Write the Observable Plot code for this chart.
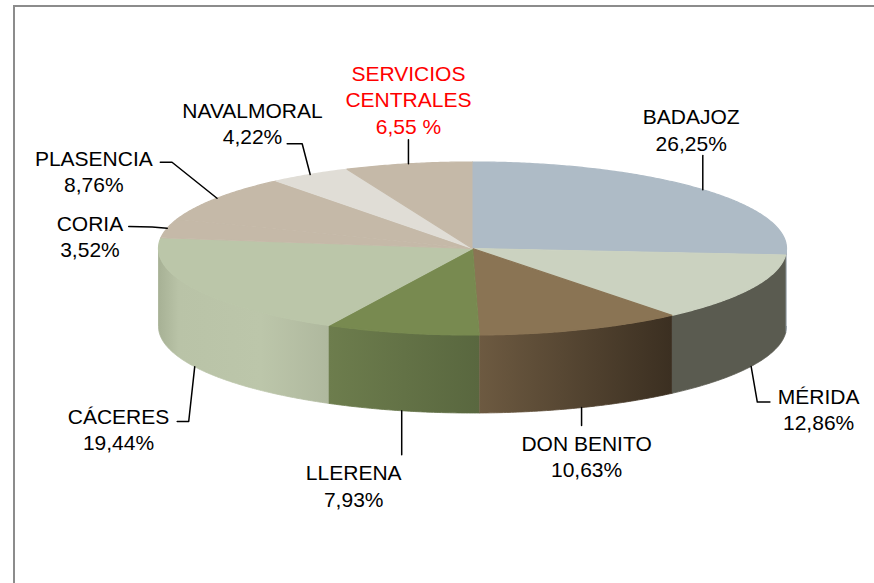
<!DOCTYPE html>
<html><head><meta charset="utf-8">
<script src="https://cdn.jsdelivr.net/npm/d3@7"></script>
<script src="https://cdn.jsdelivr.net/npm/@observablehq/plot@0.6"></script>
<style>
body{margin:0;background:#fff;}
#wrap{position:relative;width:874px;height:583px;overflow:hidden;}
#frame{position:absolute;left:13px;top:5px;right:-10px;bottom:-10px;border-top:2px solid #8c8c8c;border-left:2px solid #8c8c8c;pointer-events:none;}
</style></head><body>
<div id="wrap"><div id="chart"></div><div id="frame"></div></div>
<script>
// ---- data ----
const categories = ["BADAJOZ","MÉRIDA","DON BENITO","LLERENA","CÁCERES","CORIA","PLASENCIA","NAVALMORAL","SERVICIOS\nCENTRALES"];
const values = [26.25, 12.86, 10.63, 7.93, 19.44, 3.52, 8.76, 4.22, 6.55];
const valueLabels = ["26,25%","12,86%","10,63%","7,93%","19,44%","3,52%","8,76%","4,22%","6,55 %"];

// ---- styles ----
const topColors = ["#aebbc6","#cbd2c0","#8a7454","#788a50","#bbc6a9","#c5b9a8","#c5b9a8","#e0ddd6","#c5b9a8"];
const sideColors = ["#7f8a93","#5a5b50","url(#gDon)","url(#gLle)","url(#gCac)","#a89d8d","#a89d8d","#bdbab3","#a89d8d"];
const labelColors = ["#000","#000","#000","#000","#000","#000","#000","#000","#ff0000"];

// ---- layout ----
const W = 874, H = 583;
const geo = {cx: 472, cy: 248, rx: 314, ry: 86.5, depth: 78};
const lineGap = 26.5;
const labelLayout = [
  {dx: -11.6, dy: -65.3, leader: [[0, -34.3]]},
  {dx: 67.5, dy: 37.3, leader: [[6.2, 35.7], [18.8, 35.7]]},
  {dx: 5, dy: 42.9, leader: [[0, 18]]},
  {dx: -48, dy: 69.7, leader: [[0, 44]]},
  {dx: -76.2, dy: 57, leader: [[-6, 54.7], [-17.5, 54.7]]},
  {dx: -77.2, dy: 2.2, leader: [[-15, -1.3], [-38.4, -1.8]]},
  {dx: -123.2, dy: -32.7, leader: [[-45, -36], [-56.7, -36]]},
  {dx: -57.7, dy: -56.7, leader: [[-8, -30.7], [-23, -30.7]]},
  {dx: 0, dy: -83.3, leader: [[0, -24]]}
];

const P = (a, z = 0) => [geo.cx + geo.rx * Math.sin(a), geo.cy - geo.ry * Math.cos(a) + z];
const arcs = d3.pie().sort(null).value(d => d)(values);
const step = Math.PI / 360;

function arcPts(a0, a1, z) {
  const n = Math.max(2, Math.ceil(Math.abs(a1 - a0) / step));
  const out = [];
  for (let k = 0; k <= n; k++) out.push(P(a0 + (a1 - a0) * k / n, z));
  return out;
}

const topRows = [], sideRows = [], leaderRows = [], textRows = [];
arcs.forEach((s, i) => {
  const pts = [[geo.cx, geo.cy], ...arcPts(s.startAngle, s.endAngle, 0)];
  pts.forEach(([x, y]) => topRows.push({i, x, y, fill: topColors[i]}));
  const s0 = Math.max(s.startAngle, Math.PI / 2), s1 = Math.min(s.endAngle, 3 * Math.PI / 2);
  if (s1 > s0) {
    const sp = [...arcPts(s0, s1, 0), ...arcPts(s1, s0, geo.depth)];
    sp.forEach(([x, y]) => sideRows.push({i, x, y, fill: sideColors[i]}));
  }
  const mid = (s.startAngle + s.endAngle) / 2;
  const front = mid > Math.PI / 2 && mid < 3 * Math.PI / 2;
  const [ex, ey] = P(mid, front ? geo.depth : 0);
  const L = labelLayout[i];
  leaderRows.push({i, x: ex, y: ey});
  L.leader.forEach(([ox, oy]) => leaderRows.push({i, x: ex + ox, y: ey + oy}));
  const lines = [...categories[i].split("\n"), valueLabels[i]];
  lines.forEach((t, k) => textRows.push({t, x: ex + L.dx, y: ey + L.dy + k * lineGap, c: labelColors[i]}));
});

const chart = Plot.plot({
  width: W, height: H, margin: 0,
  x: {domain: [0, W], range: [0, W], axis: null},
  y: {domain: [0, H], range: [0, H], axis: null},
  color: {type: "identity"},
  marks: [
    Plot.line(sideRows, {x: "x", y: "y", z: "i", fill: "fill", stroke: "fill", strokeWidth: 0.8}),
    Plot.line(topRows, {x: "x", y: "y", z: "i", fill: "fill", stroke: "fill", strokeWidth: 1.2, strokeLinejoin: "round"}),
    Plot.line(leaderRows, {x: "x", y: "y", z: "i", stroke: "#000", strokeWidth: 1.5}),
    Plot.text(textRows, {x: "x", y: "y", text: "t", fill: "c", fontSize: 21,
      fontFamily: "'Liberation Sans', Arial, sans-serif", lineAnchor: "bottom", textAnchor: "middle"})
  ]
});

const NS = "http://www.w3.org/2000/svg";
const defs = document.createElementNS(NS, "defs");
const grads = {
  gDon: [[0, "#6d5a41"], [1, "#3b2f21"]],
  gLle: [[0, "#6d7d4d"], [1, "#59673f"]],
  gCac: [[0, "#a7b195"], [0.12, "#b9c3a7"], [0.6, "#bcc6aa"], [1, "#afb89e"]]
};
for (const [id, stops] of Object.entries(grads)) {
  const g = document.createElementNS(NS, "linearGradient");
  g.setAttribute("id", id);
  g.setAttribute("x1", "0"); g.setAttribute("x2", "1");
  g.setAttribute("y1", "0"); g.setAttribute("y2", "0");
  for (const [o, c] of stops) {
    const st = document.createElementNS(NS, "stop");
    st.setAttribute("offset", o);
    st.setAttribute("stop-color", c);
    g.appendChild(st);
  }
  defs.appendChild(g);
}
chart.insertBefore(defs, chart.firstChild);
document.getElementById("chart").appendChild(chart);
</script>
</body></html>
